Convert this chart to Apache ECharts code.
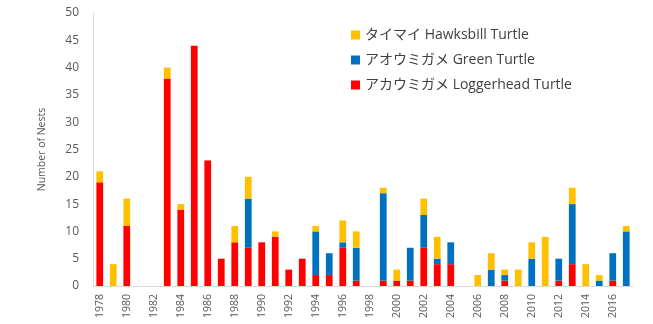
<!DOCTYPE html>
<html>
<head>
<meta charset="utf-8">
<script src="https://cdn.jsdelivr.net/npm/echarts@6/dist/echarts.min.js"></script>
<style>
  html, body { margin: 0; padding: 0; background: #fff; }
  #chart { width: 653px; height: 324px; }
</style>
</head>
<body>
<div id="chart"></div>
<script>
// 年 1978-2017
var years = [];
for (var y = 1978; y <= 2017; y++) years.push(String(y));

// アカウミガメ Loggerhead
var loggerhead = [19, 0, 11, 0, 0, 38, 14, 44, 23, 5,
                  8, 7, 8, 9, 3, 5, 2, 2, 7, 1,
                  0, 1, 1, 1, 7, 4, 4, 0, 0, 0,
                  1, 0, 0, 0, 1, 4, 0, 0, 1, 0];
// アオウミガメ Green
var green = [0, 0, 0, 0, 0, 0, 0, 0, 0, 0,
             0, 9, 0, 0, 0, 0, 8, 4, 1, 6,
             0, 16, 0, 6, 6, 1, 4, 0, 0, 3,
             1, 0, 5, 0, 4, 11, 0, 1, 5, 10];
// タイマイ Hawksbill
var hawksbill = [2, 4, 5, 0, 0, 2, 1, 0, 0, 0,
                 3, 4, 0, 1, 0, 0, 1, 0, 4, 3,
                 0, 1, 2, 0, 3, 4, 0, 0, 2, 3,
                 1, 3, 3, 9, 0, 3, 4, 1, 0, 1];

var chart = echarts.init(document.getElementById('chart'));
var fontFam = '"Open Sans", "Noto Sans CJK JP", sans-serif';

chart.setOption({
    animation: false,
    legend: {
        orient: 'vertical',
        left: 346,
        top: 23,
        itemWidth: 9,
        itemHeight: 9,
        itemGap: 11,
        icon: 'rect',
        textStyle: { color: '#404040', fontSize: 14, fontFamily: fontFam },
        data: ['タイマイ Hawksbill Turtle', 'アオウミガメ Green Turtle', 'アカウミガメ Loggerhead Turtle']
    },
    grid: {
        left: 93,
        right: 20,
        top: 13,
        bottom: 38
    },
    xAxis: {
        type: 'category',
        data: years,
        axisLine: { lineStyle: { color: '#d9d9d9' } },
        axisTick: { show: false },
        axisLabel: {
            rotate: 90,
            interval: 1,
            color: '#595959',
            fontSize: 10.5,
            fontFamily: fontFam
        }
    },
    yAxis: {
        type: 'value',
        min: 0,
        max: 50,
        interval: 5,
        name: 'Number of Nests',
        nameLocation: 'middle',
        nameGap: 46,
        nameTextStyle: { color: '#595959', fontSize: 10.5, fontFamily: fontFam },
        axisLine: { show: true, lineStyle: { color: '#d9d9d9' } },
        axisTick: { show: false },
        splitLine: { show: false },
        axisLabel: { color: '#595959', fontSize: 12, fontFamily: fontFam, margin: 14 }
    },
    series: [
        {
            name: 'アカウミガメ Loggerhead Turtle',
            type: 'bar',
            stack: 'nests',
            barWidth: '50%',
            itemStyle: { color: '#FF0000' },
            data: loggerhead
        },
        {
            name: 'アオウミガメ Green Turtle',
            type: 'bar',
            stack: 'nests',
            itemStyle: { color: '#0070C0' },
            data: green
        },
        {
            name: 'タイマイ Hawksbill Turtle',
            type: 'bar',
            stack: 'nests',
            itemStyle: { color: '#FFC000' },
            data: hawksbill
        }
    ]
});
</script>
</body>
</html>
